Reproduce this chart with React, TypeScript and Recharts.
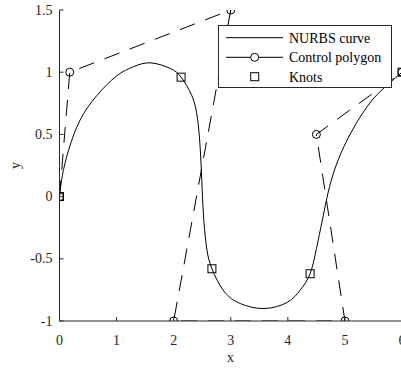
import React from "react"
import {
  ComposedChart,
  Line,
  Scatter,
  XAxis,
  YAxis,
  Legend,
} from "recharts"

// NURBS curve
const curveX = [0, 0.05, 0.16, 0.36, 0.65, 1.0, 1.3, 1.6, 1.94, 2.13, 2.32, 2.42, 2.47, 2.5, 2.53, 2.58, 2.67, 2.88, 3.17, 3.58, 3.99, 4.22, 4.39, 4.5, 4.6, 4.68, 4.8, 4.98, 5.2, 5.45, 5.7, 6]
const curveY = [0, 0.17, 0.375, 0.615, 0.81, 0.97, 1.045, 1.075, 1.03, 0.96, 0.81, 0.62, 0.35, 0.05, -0.2, -0.42, -0.58, -0.76, -0.86, -0.9, -0.85, -0.75, -0.62, -0.42, -0.2, -0.02, 0.19, 0.4, 0.59, 0.76, 0.88, 1]

// control polygon
const ctrlX = [0, 0.18, 3, 2, 5, 4.5, 6]
const ctrlY = [0, 1, 1.5, -1, -1, 0.5, 1]

// knots
const knotX = [0, 2.13, 2.67, 4.39, 6]
const knotY = [0, 0.96, -0.58, -0.62, 1]

const xTicks = [0, 1, 2, 3, 4, 5, 6]
const yTicks = [-1, -0.5, 0, 0.5, 1, 1.5]

const curve = curveX.map((x, i) => ({ x, y: curveY[i] }))
const ctrl = ctrlX.map((x, i) => ({ x, y: ctrlY[i] }))
const knots = knotX.map((x, i) => ({ x, y: knotY[i] }))

const FONT = "'Liberation Serif', 'Times New Roman', serif"
const AXIS = "#262626"

const XTick = (p: any) => (
  <text x={p.x} y={p.y + 9.5} textAnchor="middle" fontFamily={FONT} fontSize={14} fill={AXIS}>
    {p.payload.value}
  </text>
)

const YTick = (p: any) => (
  <text x={p.x} y={p.y + 4.5} textAnchor="end" fontFamily={FONT} fontSize={14} fill={AXIS}>
    {p.payload.value}
  </text>
)

const CircleDot = (p: any) => (
  <circle key={"c" + p.index} cx={p.cx} cy={p.cy} r={4} fill="none" stroke="#000" strokeWidth={1} strokeDasharray="none" />
)

const SquareDot = (p: any) => (
  <rect x={p.cx - 4} y={p.cy - 4} width={8} height={8} fill="none" stroke="#000" strokeWidth={1} />
)

const LegendBox = () => (
  <svg width={174} height={63} style={{ display: "block" }}>
    <rect x={0.5} y={0.5} width={173} height={62} fill="#fff" stroke={AXIS} />
    <line x1={8} x2={65} y1={12.7} y2={12.7} stroke="#000" />
    <line x1={8} x2={65} y1={32.3} y2={32.3} stroke="#000" />
    <circle cx={36.7} cy={32.3} r={4} fill="#fff" stroke="#000" />
    <rect x={32.7} y={47.7} width={8} height={8} fill="none" stroke="#000" />
    <g fontFamily={FONT} fontSize={14} fill="#000">
      <text x={71} y={17.5}>NURBS curve</text>
      <text x={71} y={37}>Control polygon</text>
      <text x={71} y={56.5}>Knots</text>
    </g>
  </svg>
)

export default function App() {
  return (
    <div style={{ position: "fixed", left: 0, top: 0, width: 401, height: 368, overflow: "hidden", background: "#fff" }}>
      <ComposedChart width={420} height={368} margin={{ top: 10, right: 18, bottom: 0, left: 0 }}>
        <XAxis
          type="number"
          dataKey="x"
          domain={[0, 6]}
          ticks={xTicks}
          interval={0}
          height={47}
          stroke={AXIS}
          tickSize={-4}
          tickMargin={18}
          tick={XTick}
          allowDataOverflow
          label={() => (
            <text x={230.5} y={362} textAnchor="middle" fontFamily={FONT} fontSize={14} fill={AXIS}>x</text>
          )}
        />
        <XAxis
          xAxisId="top"
          orientation="top"
          type="number"
          domain={[0, 6]}
          ticks={xTicks}
          interval={0}
          height={0}
          stroke={AXIS}
          tickSize={-4}
          tick={false}
        />
        <YAxis
          type="number"
          domain={[-1, 1.5]}
          ticks={yTicks}
          interval={0}
          width={59.5}
          stroke={AXIS}
          tickSize={-4}
          tickMargin={11}
          tick={YTick}
          allowDataOverflow
          label={() => (
            <text x={20} y={165.5} transform="rotate(-90 20 165.5)" textAnchor="middle" fontFamily={FONT} fontSize={14} fill={AXIS}>y</text>
          )}
        />
        <YAxis
          yAxisId="right"
          orientation="right"
          type="number"
          domain={[-1, 1.5]}
          ticks={yTicks}
          interval={0}
          width={0}
          stroke={AXIS}
          tickSize={-4}
          tick={false}
        />
        <Line
          data={curve}
          dataKey="y"
          type="natural"
          stroke="#000"
          strokeWidth={1}
          dot={false}
          activeDot={false}
          isAnimationActive={false}
        />
        <Line
          data={ctrl}
          dataKey="y"
          type="linear"
          stroke="#000"
          strokeWidth={1}
          strokeDasharray="16 11"
          dot={CircleDot}
          activeDot={false}
          isAnimationActive={false}
        />
        <Scatter data={knots} dataKey="y" shape={SquareDot} isAnimationActive={false} />
        <Legend
          layout="vertical"
          align="center"
          verticalAlign="middle"
          content={() => <LegendBox />}
          wrapperStyle={{ left: 218, top: 25, width: 174, height: 63 }}
        />
      </ComposedChart>
    </div>
  )
}
